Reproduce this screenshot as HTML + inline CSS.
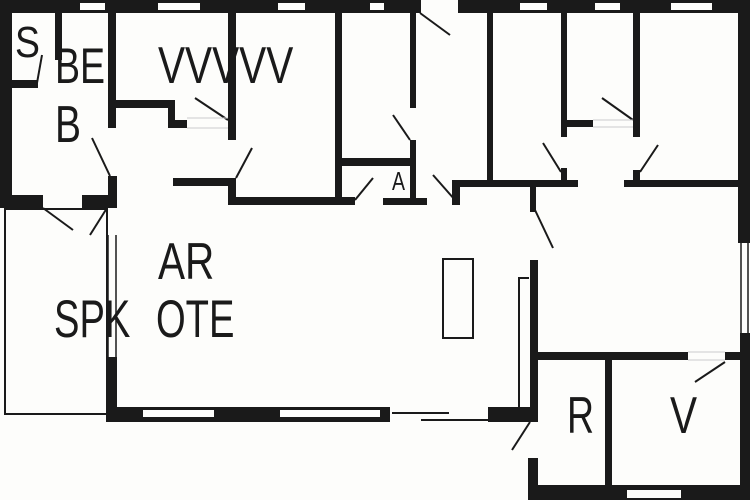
<!DOCTYPE html>
<html><head><meta charset="utf-8"><style>
html,body{margin:0;padding:0;background:#fff;}
svg{display:block}
text{font-family:"Liberation Sans",sans-serif;fill:#1a1a1a}
</style></head><body>
<svg width="750" height="500" viewBox="0 0 750 500" xmlns="http://www.w3.org/2000/svg">
<rect width="750" height="500" fill="#fdfdfb"/>
<g fill="#1a1a1a">
<!-- top wall -->
<rect x="0" y="0" width="421" height="13"/>
<rect x="458" y="0" width="292" height="13"/>
<!-- left wall -->
<rect x="0" y="0" width="12" height="208"/>
<rect x="55" y="13" width="7" height="47"/>
<rect x="12" y="80" width="26" height="8"/>
<rect x="108" y="13" width="8" height="115"/>
<rect x="108" y="176" width="9" height="32"/>
<rect x="0" y="195" width="43" height="13"/>
<rect x="82" y="195" width="35" height="13"/>
<!-- VVVVV step -->
<rect x="116" y="100" width="57" height="8"/>
<rect x="168" y="100" width="7" height="28"/>
<rect x="168" y="120" width="19" height="8"/>
<rect x="228" y="13" width="8" height="127"/>
<rect x="228" y="178" width="8" height="27"/>
<rect x="173" y="178" width="60" height="8"/>
<rect x="228" y="197" width="127" height="8"/>
<rect x="335" y="13" width="7" height="190"/>
<rect x="342" y="158" width="73" height="8"/>
<rect x="410" y="13" width="6" height="95"/>
<rect x="410" y="140" width="6" height="65"/>
<rect x="383" y="198" width="44" height="7"/>
<rect x="452" y="180" width="8" height="25"/>
<rect x="455" y="180" width="123" height="7"/>
<rect x="487" y="13" width="6" height="170"/>
<rect x="530" y="183" width="6" height="29"/>
<rect x="561" y="13" width="6" height="124"/>
<rect x="561" y="168" width="6" height="15"/>
<rect x="567" y="120" width="26" height="7"/>
<rect x="633" y="13" width="7" height="124"/>
<rect x="633" y="170" width="7" height="12"/>
<rect x="624" y="180" width="120" height="7"/>
<rect x="738" y="0" width="12" height="243"/>
<rect x="740" y="333" width="10" height="167"/>
<!-- lower -->
<rect x="107" y="357" width="10" height="65"/>
<rect x="106" y="407" width="284" height="15"/>
<rect x="488" y="407" width="50" height="15"/>
<rect x="530" y="260" width="8" height="162"/>
<rect x="528" y="458" width="10" height="42"/>
<rect x="535" y="352" width="153" height="8"/>
<rect x="725" y="352" width="25" height="8"/>
<rect x="605" y="360" width="7" height="125"/>
<rect x="528" y="485" width="222" height="15"/>
</g>
<g fill="#fdfdfb">
<rect x="80" y="3" width="25" height="7"/>
<rect x="158" y="3" width="42" height="7"/>
<rect x="278" y="3" width="27" height="7"/>
<rect x="370" y="3" width="14" height="7"/>
<rect x="520" y="3" width="27" height="7"/>
<rect x="595" y="3" width="25" height="7"/>
<rect x="671" y="3" width="41" height="7"/>
<rect x="143" y="410" width="71" height="7"/>
<rect x="280" y="410" width="100" height="7"/>
<rect x="627" y="490" width="54" height="8"/>
</g>
<g stroke="#1a1a1a" stroke-width="2" fill="none">
<rect x="5" y="209" width="102" height="205"/>
<rect x="443" y="259" width="30" height="79"/>
<polyline points="529,278 519,278 519,407"/>
<line x1="108" y1="235" x2="108" y2="357" stroke-width="1.5"/>
<line x1="116" y1="235" x2="116" y2="357" stroke-width="1.5"/>
<line x1="741" y1="243" x2="741" y2="333" stroke-width="1.5"/>
<line x1="748" y1="243" x2="748" y2="333" stroke-width="1.5"/>
<line x1="392" y1="413" x2="449" y2="413"/>
<line x1="421" y1="420" x2="488" y2="420"/>
<!-- door swings -->
<line x1="37" y1="83" x2="42" y2="55"/>
<line x1="110" y1="176" x2="92" y2="138"/>
<line x1="43" y1="208" x2="73" y2="230"/>
<line x1="107" y1="208" x2="90" y2="235"/>
<line x1="228" y1="120" x2="195" y2="98"/>
<line x1="236" y1="178" x2="252" y2="148"/>
<line x1="410" y1="140" x2="393" y2="115"/>
<line x1="355" y1="200" x2="373" y2="178"/>
<line x1="455" y1="200" x2="433" y2="175"/>
<line x1="420" y1="13" x2="450" y2="35"/>
<line x1="561" y1="172" x2="543" y2="143"/>
<line x1="633" y1="120" x2="602" y2="98"/>
<line x1="640" y1="172" x2="658" y2="145"/>
<line x1="535" y1="210" x2="553" y2="248"/>
<line x1="530" y1="422" x2="512" y2="450"/>
<line x1="725" y1="362" x2="695" y2="382"/>
</g>
<g stroke="#ccc" stroke-width="1" fill="none">
<line x1="187" y1="118" x2="228" y2="118"/>
<line x1="187" y1="128" x2="228" y2="128"/>
<line x1="593" y1="120" x2="633" y2="120"/>
<line x1="593" y1="127" x2="633" y2="127"/>
<line x1="688" y1="352" x2="725" y2="352"/>
<line x1="688" y1="360" x2="725" y2="360"/>
</g>
<g>
<text x="15" y="57" font-size="44" transform="translate(15 0) scale(0.85 1) translate(-15 0)">S</text>
<text x="55" y="83" font-size="50" transform="translate(55 0) scale(0.75 1) translate(-55 0)">BE</text>
<text x="55" y="142" font-size="52" transform="translate(55 0) scale(0.75 1) translate(-55 0)">B</text>
<text x="158" y="83" font-size="52" transform="translate(158 0) scale(0.78 1) translate(-158 0)">VVVVV</text>
<text x="158" y="279" font-size="52" transform="translate(158 0) scale(0.78 1) translate(-158 0)">AR</text>
<text x="54" y="337" font-size="53" transform="translate(54 0) scale(0.72 1) translate(-54 0)">SPK</text>
<text x="156" y="337" font-size="53" transform="translate(156 0) scale(0.72 1) translate(-156 0)">OTE</text>
<text x="567" y="433" font-size="52" transform="translate(567 0) scale(0.72 1) translate(-567 0)">R</text>
<text x="670" y="433" font-size="52" transform="translate(670 0) scale(0.78 1) translate(-670 0)">V</text>
<text x="392" y="190" font-size="26" transform="translate(392 0) scale(0.75 1) translate(-392 0)">A</text>
</g>
</svg>
</body></html>
